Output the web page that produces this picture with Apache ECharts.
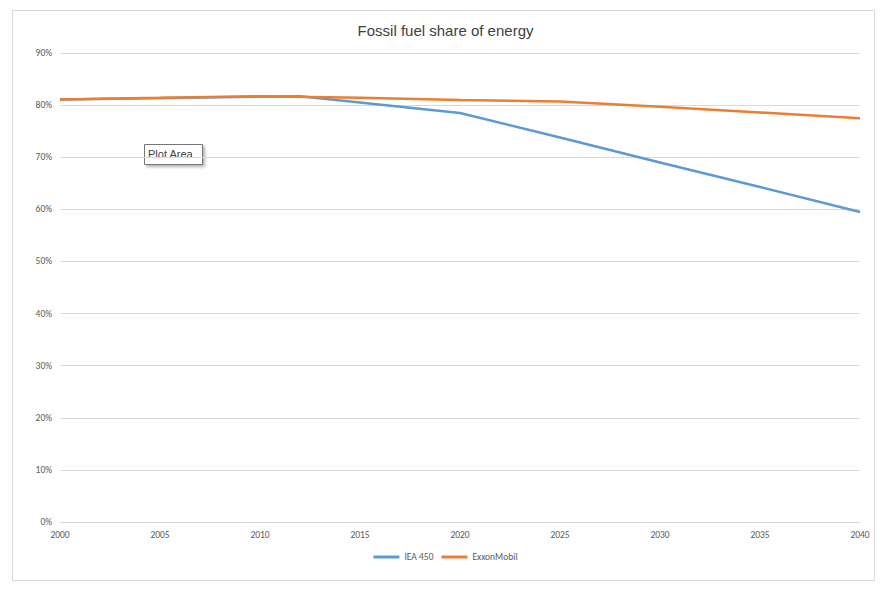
<!DOCTYPE html>
<html>
<head>
<meta charset="utf-8">
<script src="https://cdn.jsdelivr.net/npm/echarts@6/dist/echarts.min.js"></script>
<style>
  html, body { margin: 0; padding: 0; background: #fff; }
  #chart { width: 891px; height: 591px; }
</style>
</head>
<body>
<div id="chart"></div>
<script>
var iea450 = [[2000, 0.811], [2010, 0.816], [2012, 0.817], [2020, 0.785], [2025, 0.738], [2030, 0.69], [2035, 0.643], [2040, 0.595]];
var exxon = [[2000, 0.811], [2005, 0.814], [2010, 0.817], [2015, 0.814], [2020, 0.810], [2025, 0.807], [2030, 0.797], [2035, 0.786], [2040, 0.775]];

var chart = echarts.init(document.getElementById('chart'), null, { renderer: 'svg' });
var labelStyle = { color: '#595959', fontSize: 9.5, fontFamily: 'Carlito, Liberation Sans, sans-serif' };

chart.setOption({
  animation: false,
  title: {
    text: 'Fossil fuel share of energy',
    left: 'center',
    top: 18,
    textStyle: { color: '#404040', fontSize: 15, fontWeight: 'normal', fontFamily: 'Liberation Sans, sans-serif' }
  },
  legend: {
    bottom: 24,
    itemWidth: 26,
    itemHeight: 3,
    icon: 'rect',
    textStyle: labelStyle,
    data: ['IEA 450', 'ExxonMobil']
  },
  grid: { left: 60, right: 31, top: 53, bottom: 69 },
  xAxis: {
    type: 'value',
    min: 2000,
    max: 2040,
    interval: 5,
    axisLabel: Object.assign({ formatter: function (v) { return String(v); } }, labelStyle),
    axisLine: { lineStyle: { color: '#d9d9d9' } },
    axisTick: { show: false },
    splitLine: { show: false }
  },
  yAxis: {
    type: 'value',
    min: 0,
    max: 0.9,
    interval: 0.1,
    axisLabel: Object.assign({ formatter: function (v) { return Math.round(v * 100) + '%'; } }, labelStyle),
    axisLine: { show: false },
    axisTick: { show: false },
    splitLine: { lineStyle: { color: '#d9d9d9' } }
  },
  graphic: [
    { type: 'rect', left: 10, top: 8, shape: { width: 862, height: 570 }, style: { fill: 'none', stroke: '#d9d9d9' } },
    { type: 'rect', left: 144, top: 144, shape: { width: 58, height: 20 }, style: { fill: '#fff', stroke: '#767676', shadowBlur: 3, shadowOffsetX: 2, shadowOffsetY: 2, shadowColor: 'rgba(0,0,0,0.3)' } },
    { type: 'text', left: 148, top: 148, style: { text: 'Plot Area', fill: '#404040', fontSize: 11, fontFamily: 'Liberation Sans, sans-serif' } }
  ],
  series: [
    { name: 'IEA 450', type: 'line', data: iea450, showSymbol: false, lineStyle: { width: 2.5, color: '#5b9bd5' }, itemStyle: { color: '#5b9bd5' } },
    { name: 'ExxonMobil', type: 'line', data: exxon, showSymbol: false, lineStyle: { width: 2.5, color: '#ed7d31' }, itemStyle: { color: '#ed7d31' } }
  ]
});
</script>
</body>
</html>
